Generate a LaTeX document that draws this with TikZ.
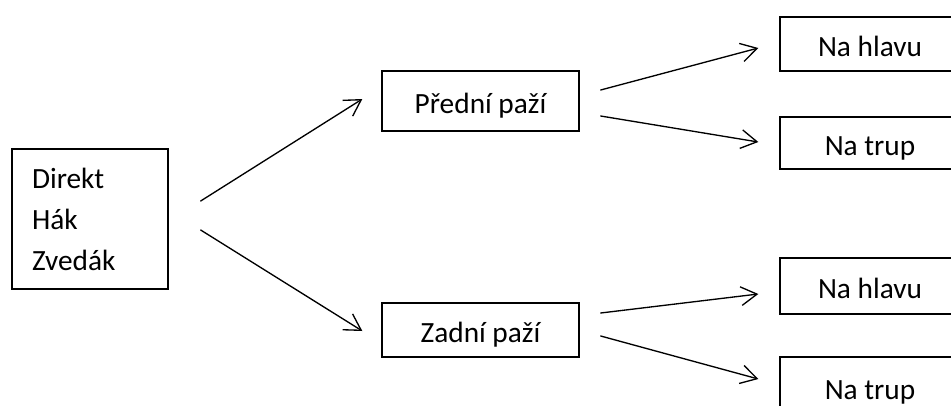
\documentclass[tikz,border=0pt]{standalone}
\usepackage{fontspec}
\setmainfont{Carlito}
\usetikzlibrary{calc,arrows.meta}
\tikzset{
  Box/.style={
    draw, line width=1pt, inner sep=0pt,
    font=\fontsize{22}{26}\selectfont,
    text height=18pt, text depth=0pt
  },
  ListBox/.style={
    draw, line width=1pt, inner xsep=15pt, inner ysep=0pt,
    align=left, text width=87pt, minimum height=105pt,
    font=\fontsize{22}{30.75}\selectfont
  },
  Arr/.style={
    line width=1pt, line cap=round,
    -{Straight Barb[length=12pt,width=14pt,line width=1pt]}
  }
}

\begin{document}
\begin{tikzpicture}[x=0.75pt, y=-0.75pt]
  % page frame in pixel units
  \useasboundingbox (0,0) rectangle (951,405);
  \clip (0,0) rectangle (951,405);

  % punches
  \node[ListBox] (dir) at (90,219) {Direkt\\Hák\\Zvedák};

  % arms
  \node[Box, minimum width=147.75pt, minimum height=45pt] (pred) at (480.5,101) {Přední paží};
  \node[Box, minimum width=147.75pt, minimum height=40.5pt] (zad) at (480.5,330) {Zadní paží};

  % targets (cut at the right edge)
  \node[Box, minimum width=135pt, minimum height=40.5pt] (hlava1) at (870,44) {Na hlavu};
  \node[Box, minimum width=135pt, minimum height=39pt] (trup1) at (870,143) {Na trup};
  \node[Box, minimum width=135pt, minimum height=42pt] (hlava2) at (870,286) {Na hlavu};
  \node[Box, minimum width=135pt, minimum height=45pt] (trup2) at (870,387) {Na trup};

  % arrows
  \draw[Arr] ($(dir.east)+(32,-18)$) -- ($(pred.west)+(-19,-2)$);
  \draw[Arr] ($(dir.east)+(32,11)$) -- ($(zad.west)+(-19,1)$);
  \draw[Arr] ($(pred.east)+(21,-11)$) -- ($(hlava1.west)+(-21,4)$);
  \draw[Arr] ($(pred.east)+(21,15)$) -- ($(trup1.west)+(-21,-1)$);
  \draw[Arr] ($(zad.east)+(21,-17)$) -- ($(hlava2.west)+(-21,8)$);
  \draw[Arr] ($(zad.east)+(21,6)$) -- ($(trup2.west)+(-21,-8)$);
\end{tikzpicture}
\end{document}
